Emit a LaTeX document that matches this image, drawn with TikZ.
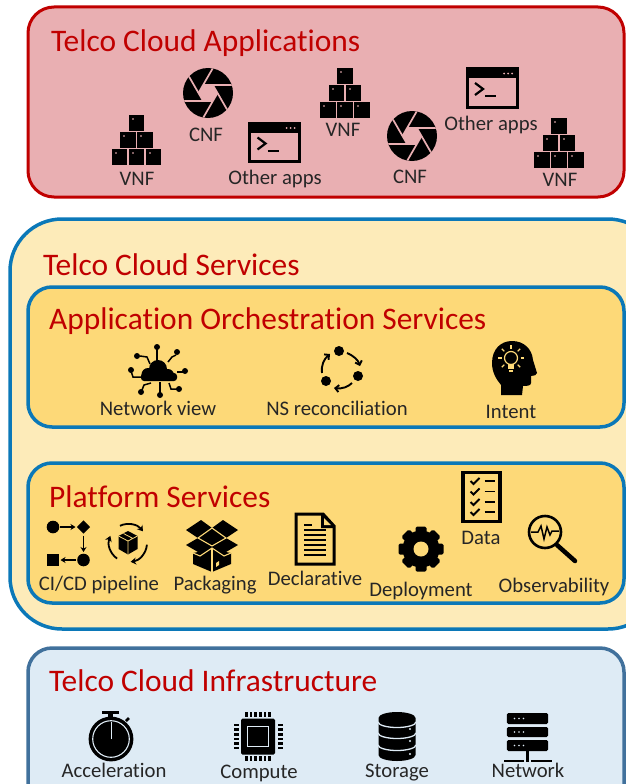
\documentclass[tikz,border=0pt]{standalone}
\usepackage{fontspec}
\setmainfont[Ligatures=NoCommon]{Carlito}
\usetikzlibrary{arrows.meta,calc}
\definecolor{redfill}{HTML}{E9AFB2}
\definecolor{redline}{HTML}{C00000}
\definecolor{paleyellow}{HTML}{FDEBB9}
\definecolor{midyellow}{HTML}{FDD978}
\definecolor{blueline}{HTML}{0B78B8}
\definecolor{infrafill}{HTML}{DEEBF5}
\definecolor{infraline}{HTML}{41719C}
\definecolor{labeltext}{HTML}{262626}
\colorlet{ibg}{redfill}
\tikzset{
  panel/.style={line width=#1},
  paneltitle/.style={anchor=west,inner sep=0pt,text=redline,font=\fontsize{31.4}{34}\selectfont},
  itemlabel/.style={inner sep=0pt,text=labeltext,text height=13pt,text depth=4pt,font=\fontsize{20.7}{23}\selectfont},
  vnf/.pic={
    \foreach \x/\y in {0/-17,-8.5/0,8.5/0,-17/17,0/17,17/17}{
      \fill[black] (\x-7.6,\y-7.6) rectangle (\x+7.6,\y+7.6);
      \fill[ibg!55!black] (\x-4.8,\y-4.8) rectangle (\x-3,\y-3);
    }
  },
  cnf/.pic={
    \fill[black] (0,0) circle (25);
    \begin{scope}
      \clip (0,0) circle (25);
      \foreach \a in {0,60,...,300}{
        \draw[ibg,line width=1.7pt] (\a:9.5) -- ++(\a+120:30);
      }
      \fill[ibg] (0:9.5) -- (60:9.5) -- (120:9.5) -- (180:9.5) -- (240:9.5) -- (300:9.5) -- cycle;
    \end{scope}
  },
  apps/.pic={
    \draw[black,line width=3pt] (-25,-19) rectangle (25,19);
    \fill[black] (-25,-19) rectangle (25,-10);
    \foreach \x in {12,16,20}{\fill[ibg] (\x,-14.5) circle (1);}
    \draw[black,line width=2.2pt] (-17,-5) -- (-9,1) -- (-17,7);
    \draw[black,line width=2pt] (-7,8) -- (4,8);
  },
  netview/.pic={
    \fill[black] (-10,2.5) circle (6.5);
    \fill[black] (0,-3) circle (9);
    \fill[black] (10,3) circle (6);
    \fill[black,rounded corners=3pt] (-17,1) rectangle (19,9);
    \draw[black,line width=1.5pt] (-1,-10) -- (-1,-23);
    \fill[black] (-1,-25) circle (3);
    \draw[black,line width=1.5pt] (10,-10) -- (14,-15) -- (18,-17);
    \fill[black] (19,-20) circle (3);
    \draw[black,line width=1.5pt] (19,0) -- (26,0);
    \fill[black] (27,-1) circle (3);
    \draw[black,line width=1.5pt] (11,11) -- (13,17) -- (20,17);
    \fill[black] (21,17) circle (3);
    \draw[black,line width=1.5pt] (2,10) -- (2,21);
    \fill[black] (2,23) circle (3);
    \draw[black,line width=1.5pt] (-7,11) -- (-14,13) -- (-16,18);
    \fill[black] (-17,20) circle (3);
    \draw[black,line width=1.5pt] (-17,5) -- (-25,5) -- (-27,-1);
    \fill[black] (-27,-2) circle (3);
    \draw[black,line width=1.5pt] (-8,-8) -- (-11,-15) -- (-18,-16);
    \fill[black] (-21,-16) circle (3);
  },
  nsrec/.pic={
    \fill[black] (-3,-17) circle (5);
    \fill[black] (16,8) circle (5);
    \fill[black] (-16,13) circle (5);
    \draw[black,line width=1.9pt,-{Straight Barb[length=3.5pt,width=7pt]}] (5,-15) .. controls (12,-12) and (16,-8) .. (18,-2);
    \draw[black,line width=1.9pt,-{Straight Barb[length=3.5pt,width=7pt]}] (10,15) .. controls (6,19) and (0,21) .. (-8,20);
    \draw[black,line width=1.9pt,-{Straight Barb[length=3.5pt,width=7pt]}] (-20,5) .. controls (-21,-3) and (-18,-9) .. (-12,-14);
  },
  intent/.pic={
    \fill[black] (-13,27) -- (-13,17) .. controls (-18,11) and (-22,4) .. (-22,-5)
      .. controls (-22,-19) and (-13,-27) .. (-2,-27)
      .. controls (10,-27) and (18,-19) .. (19,-8)
      -- (23,5) .. controls (23,7) and (20,8) .. (17,8) -- (17,15)
      .. controls (17,18) and (12,18) .. (9,18) -- (8,27) -- cycle;
    \draw[ibg,line width=1.2pt] (-3,-10) circle (6.5);
    \fill[ibg] (-6,-4) rectangle (0,1);
    \fill[ibg] (-5,2) rectangle (-1,3.5);
    \foreach \a in {0,45,135,180,225,-45,90}{
      \draw[ibg,line width=1.1pt] ($(-3,-10)+(\a+180:9.5)$) -- ($(-3,-10)+(\a+180:13)$);
    }
  },
  cicd/.pic={
    \fill[black] (-15,-17) circle (6.3);
    \fill[black] (15.5,-23.6) -- (22,-17) -- (15.5,-10.4) -- (9,-17) -- cycle;
    \fill[black] (15.5,16) circle (6.3);
    \fill[black] (-21,10) rectangle (-9,22);
    \draw[black,line width=1.4pt,-{Stealth[length=5pt,width=6pt]}] (-8,-17) -- (7.5,-17);
    \draw[black,line width=1.4pt,-{Stealth[length=5pt,width=6pt]}] (15.5,-8.5) -- (15.5,8);
    \draw[black,line width=1.4pt,-{Stealth[length=5pt,width=6pt]}] (7.5,16) -- (-7.5,16);
  },
  boxcycle/.pic={
    \foreach \a in {0,120,240}{
      \begin{scope}[rotate=\a]
        \draw[black,line width=1.8pt,-{Stealth[length=5.5pt,width=7pt]}] (5:19) arc (5:82:19);
      \end{scope}
    }
    \fill[black] (0,-12) -- (9.5,-7) -- (9.5,6) -- (0,11.5) -- (-9.5,6) -- (-9.5,-7) -- cycle;
    \draw[ibg,line width=.8pt] (-9.5,-7) -- (0,-2) -- (9.5,-7) (0,-2) -- (0,11.5) (-4.5,-9.5) -- (5,-4.5);
  },
  packaging/.pic={
    \fill[black] (-26,-15) -- (-11,-25) -- (0,-17) -- (11,-25) -- (26,-15) -- (14,-7) -- (26,0) -- (14,7) -- (19,8) -- (19,19) -- (0,27) -- (-19,19) -- (-19,8) -- (-14,7) -- (-26,0) -- (-14,-7) -- cycle;
    \draw[ibg,line width=1.1pt] (-14,-7) -- (0,-17) -- (14,-7) -- (0,1) -- cycle;
    \draw[ibg,line width=1.1pt] (-19,8) -- (-12,11) -- (0,3) -- (12,11) -- (19,8);
    \draw[ibg,line width=1.1pt] (0,3) -- (0,27);
    \fill[ibg] (4,22) -- (7,20) -- (7,16) -- (4,18) -- cycle;
  },
  docu/.pic={
    \draw[black,line width=3pt,line join=miter] (-19,-25) -- (8,-25) -- (19,-13) -- (19,25) -- (-19,25) -- cycle;
    \fill[black] (6,-25) -- (6,-11) -- (19,-11) -- (19,-13) -- (8,-25) -- cycle;
    \fill[ibg] (9,-21) -- (9,-14) -- (16,-14) -- cycle;
    \draw[black,line width=1.3pt] (-11,-14) -- (-3,-14);
    \foreach \y in {-9,-4,1,6,11,16}{\draw[black,line width=1.5pt] (-11,\y) -- (11,\y);}
  },
  gear/.pic={
    \fill[black] (0,0) circle (18.5);
    \foreach \a in {0,45,...,315}{
      \fill[black,rotate=\a,rounded corners=1.5pt] (-5.5,-22.5) rectangle (5.5,-12);
    }
    \fill[ibg] (0,0) circle (7.5);
  },
  checklist/.pic={
    \draw[black,line width=3.5pt] (-18.5,-24.5) rectangle (18.5,24.5);
    \foreach \y in {-16,-5.5,5,15}{
      \draw[black,line width=1.8pt] (-11,\y) -- (-8,\y+3) -- (-2,\y-3);
      \draw[black,line width=1.8pt] (3,\y) -- (13,\y);
    }
  },
  magnifier/.pic={
    \draw[black,line width=2.6pt] (0,0) circle (16);
    \draw[black,line width=4.5pt,line cap=round] (12,13) -- (30,29);
    \draw[black,line width=1.5pt] (-14,0) -- (-7,0) -- (-4,-6) -- (-1,7) -- (2,-5) -- (5,3) -- (7,-1) -- (14,-1);
  },
  stopwatch/.pic={
    \fill[black] (0,0) circle (22.4);
    \draw[ibg,line width=1.1pt] (0,0) circle (18.3);
    \draw[ibg,line width=1pt] (0,0) -- (0,-17);
    \fill[black] (-9,-28) rectangle (8,-25);
    \fill[black] (-3,-26) rectangle (2,-21);
    \draw[black,line width=2.5pt] (15,-18) -- (18,-21);
  },
  chip/.pic={
    \fill[black,rounded corners=1.5pt] (-17,-18) rectangle (17,18);
    \draw[ibg,line width=1.3pt] (-10.5,-10) rectangle (10.5,10);
    \foreach \t in {-11.5,-6.9,-2.3,2.3,6.9,11.5}{
      \fill[black] (\t-1.3,-24.5) rectangle (\t+1.3,-19.5);
      \fill[black] (\t-1.3,19.5) rectangle (\t+1.3,24.5);
      \fill[black] (-24.5,\t-1.3) rectangle (-19.5,\t+1.3);
      \fill[black] (19.5,\t-1.3) rectangle (24.5,\t+1.3);
    }
  },
  storage/.pic={
    \fill[black] (-18.5,-18.5) arc (180:360:18.5 and 6) -- (18.5,18.5) arc (0:180:18.5 and 6) -- cycle;
    \foreach \y in {-14.5,-3.5,8.5}{
      \draw[ibg,line width=1.3pt] (-18.9,\y) arc (180:0:18.9 and 5.5);
    }
    \foreach \y in {-7.5,4.5,17.5}{\fill[ibg] (13,\y) circle (1.2);}
  },
  servers/.pic={
    \foreach \t/\b in {-24/-13,-10/0,3/14}{
      \fill[black,rounded corners=1.5pt] (-20.7,\t) rectangle (20.7,\b);
      \foreach \x in {-13,-8.5,-4}{\fill[ibg] (\x,{(\t+\b)/2}) circle (.8);}
    }
    \fill[black] (-1.4,14) rectangle (1.4,25);
    \fill[black] (-24,23) rectangle (-3.5,25);
    \fill[black] (3.5,23) rectangle (24,25);
  },
}
\begin{document}
\begin{tikzpicture}[x=1pt,y=-1pt]
\useasboundingbox (0,0) rectangle (626,784);
\clip (0,0) rectangle (626,784);
% panels
\path[draw=redline,fill=redfill,panel=3pt,rounded corners=26pt] (28,7) rectangle (624,197);
\path[draw=blueline,fill=paleyellow,panel=3.5pt,rounded corners=52pt] (10,219) rectangle (660,629);
\path[draw=blueline,fill=midyellow,panel=3.5pt,rounded corners=24pt] (28,287) rectangle (624,427);
\path[draw=blueline,fill=midyellow,panel=3.5pt,rounded corners=24pt] (28,463) rectangle (624,603);
\path[draw=infraline,fill=infrafill,panel=3.5pt,rounded corners=24pt] (28,648) rectangle (624,810);
% titles
\node[paneltitle] (tapps) at (51,43) {Telco Cloud Applications};
\node[paneltitle] (tserv) at (43,265) {Telco Cloud Services};
\node[paneltitle] (torch) at (49,321) {Application Orchestration Services};
\node[paneltitle] (tplat) at (49,496.5) {Platform Services};
\node[paneltitle] (tinfr) at (49,681) {Telco Cloud Infrastructure};
% applications
\colorlet{ibg}{redfill}
\pic at (136.5,140) {vnf};
\pic at (208,93) {cnf};
\pic at (274.5,142.5) {apps};
\pic at (345,93) {vnf};
\pic at (412,136) {cnf};
\pic at (492,88) {apps};
\pic at (559,143) {vnf};
\node[itemlabel] (l1) at (137,181) {VNF};
\node[itemlabel] (l2) at (206,137) {CNF};
\node[itemlabel] (l3) at (275,180) {Other apps};
\node[itemlabel] (l4) at (343,132) {VNF};
\node[itemlabel] (l5) at (410,179) {CNF};
\node[itemlabel] (l6) at (491,126) {Other apps};
\node[itemlabel] (l7) at (560,182) {VNF};
% orchestration
\colorlet{ibg}{midyellow}
\pic at (158,372) {netview};
\pic at (342,368) {nsrec};
\pic at (514,368) {intent};
\node[itemlabel] (l8) at (158,411) {Network view};
\node[itemlabel] (l9) at (337,411) {NS reconciliation};
\node[itemlabel] (l10) at (511,414) {Intent};
% platform
\pic at (68,544) {cicd};
\pic at (128,543) {boxcycle};
\pic at (212,545) {packaging};
\pic at (315,539) {docu};
\pic at (421,549) {gear};
\pic at (481.5,497) {checklist};
\pic at (545,532) {magnifier};
\node[itemlabel] (l11) at (99,586) {CI/CD pipeline};
\node[itemlabel] (l12) at (215,586) {Packaging};
\node[itemlabel] (l13) at (315,581) {Declarative};
\node[itemlabel] (l14) at (421,592) {Deployment};
\node[itemlabel] (l15) at (481,540) {Data};
\node[itemlabel] (l16) at (554,588) {Observability};
% infrastructure
\colorlet{ibg}{infrafill}
\pic at (111,739) {stopwatch};
\pic at (258,736.5) {chip};
\pic at (397,736.5) {storage};
\pic at (527.5,737) {servers};
\node[itemlabel] (l17) at (114,773) {Acceleration};
\node[itemlabel] (l18) at (259,774) {Compute};
\node[itemlabel] (l19) at (397,773) {Storage};
\node[itemlabel] (l20) at (528,773) {Network};
\end{tikzpicture}
\end{document}
